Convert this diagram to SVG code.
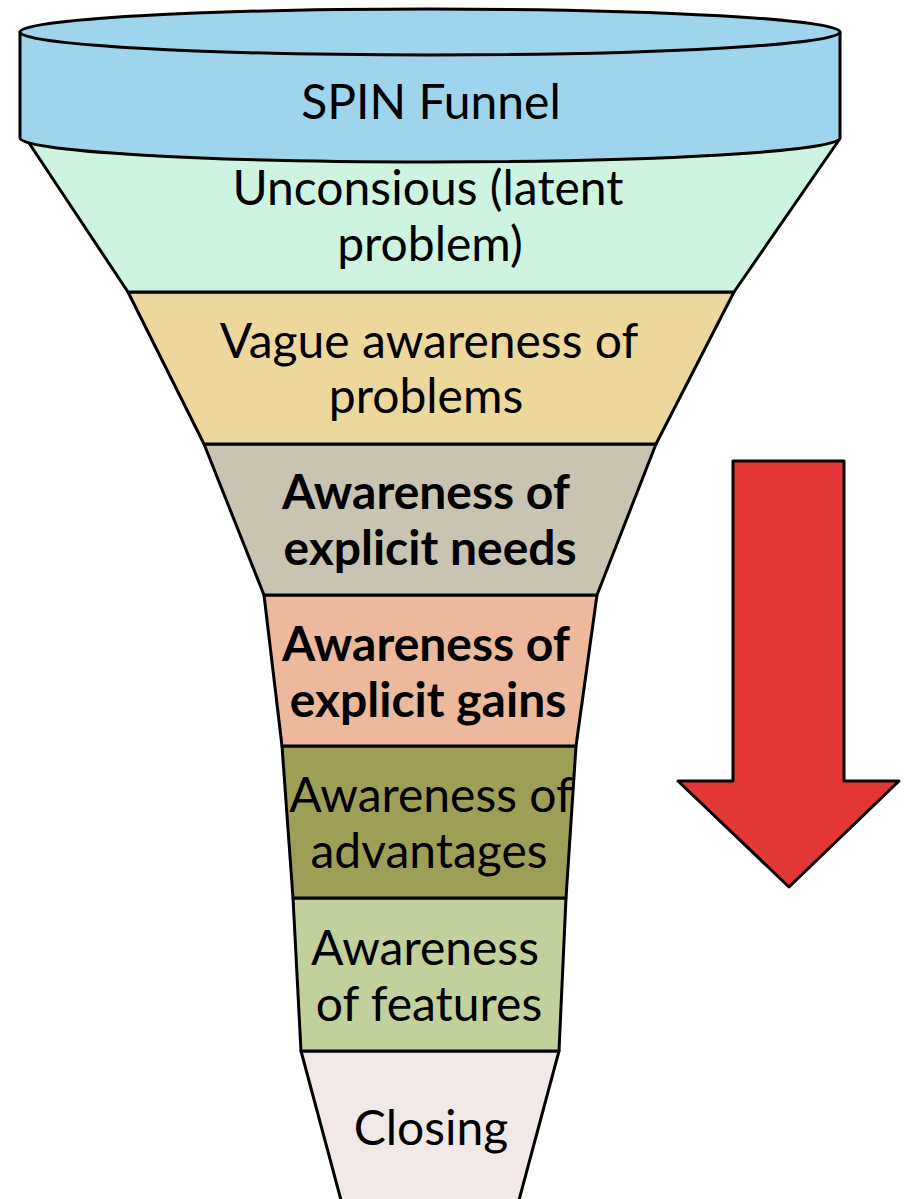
<svg xmlns="http://www.w3.org/2000/svg" width="906" height="1199" viewBox="0 0 906 1199">
<style>
.s{stroke:#000;stroke-width:3;stroke-linejoin:round}
.t{font-family:Lato,"Open Sans","Liberation Sans",sans-serif;font-size:48px;fill:#000;text-anchor:middle}
.b{font-weight:bold}
</style>
<rect width="906" height="1199" fill="#fff"/>
<g id="closing">
<polygon class="s" points="301,1051 559,1051 515,1215 345,1215" fill="#f1e9e8"/>
<text class="t" x="431" y="1145">Closing</text>
</g>
<g id="features">
<polygon class="s" points="293,898 566,898 559,1051 301,1051" fill="#c2d09c"/>
<text class="t" x="425" y="965">Awareness</text>
<text class="t" x="429" y="1021">of features</text>
</g>
<g id="advantages">
<polygon class="s" points="282,746 576,746 566,898 293,898" fill="#9e9f57"/>
<text class="t" x="431" y="812">Awareness of</text>
<text class="t" x="429" y="868">advantages</text>
</g>
<g id="gains">
<polygon class="s" points="264,595 597,595 576,746 282,746" fill="#ecb99c"/>
<text class="t b" x="426" y="661">Awareness of</text>
<text class="t b" x="428" y="717">explicit gains</text>
</g>
<g id="needs">
<polygon class="s" points="204,444 656,444 597,595 264,595" fill="#c9c4b1"/>
<text class="t b" x="426" y="509">Awareness of</text>
<text class="t b" x="430" y="565">explicit needs</text>
</g>
<g id="vague">
<polygon class="s" points="128,292 734,292 656,444 204,444" fill="#ecd89d"/>
<text class="t" x="429" y="358">Vague awareness of</text>
<text class="t" x="426" y="413">problems</text>
</g>
<g id="unconscious">
<polygon class="s" points="27,140 839,140 734,292 128,292" fill="#cdf4e0"/>
<text class="t" x="428" y="205">Unconsious (latent</text>
<text class="t" x="430" y="261">problem)</text>
</g>
<g id="spin-funnel">
<path class="s" d="M20,32 L20,138 A410,24 0 0 0 840,138 L840,32 Z" fill="#9ed4ec"/>
<ellipse class="s" cx="430" cy="32" rx="410" ry="23" fill="#9ed4ec"/>
<text class="t" x="431" y="119">SPIN Funnel</text>
</g>
<g id="arrow">
<polygon class="s" points="733,461 844,461 844,781 899,781 789,887 678,781 733,781" fill="#e23735"/>
</g>
</svg>
